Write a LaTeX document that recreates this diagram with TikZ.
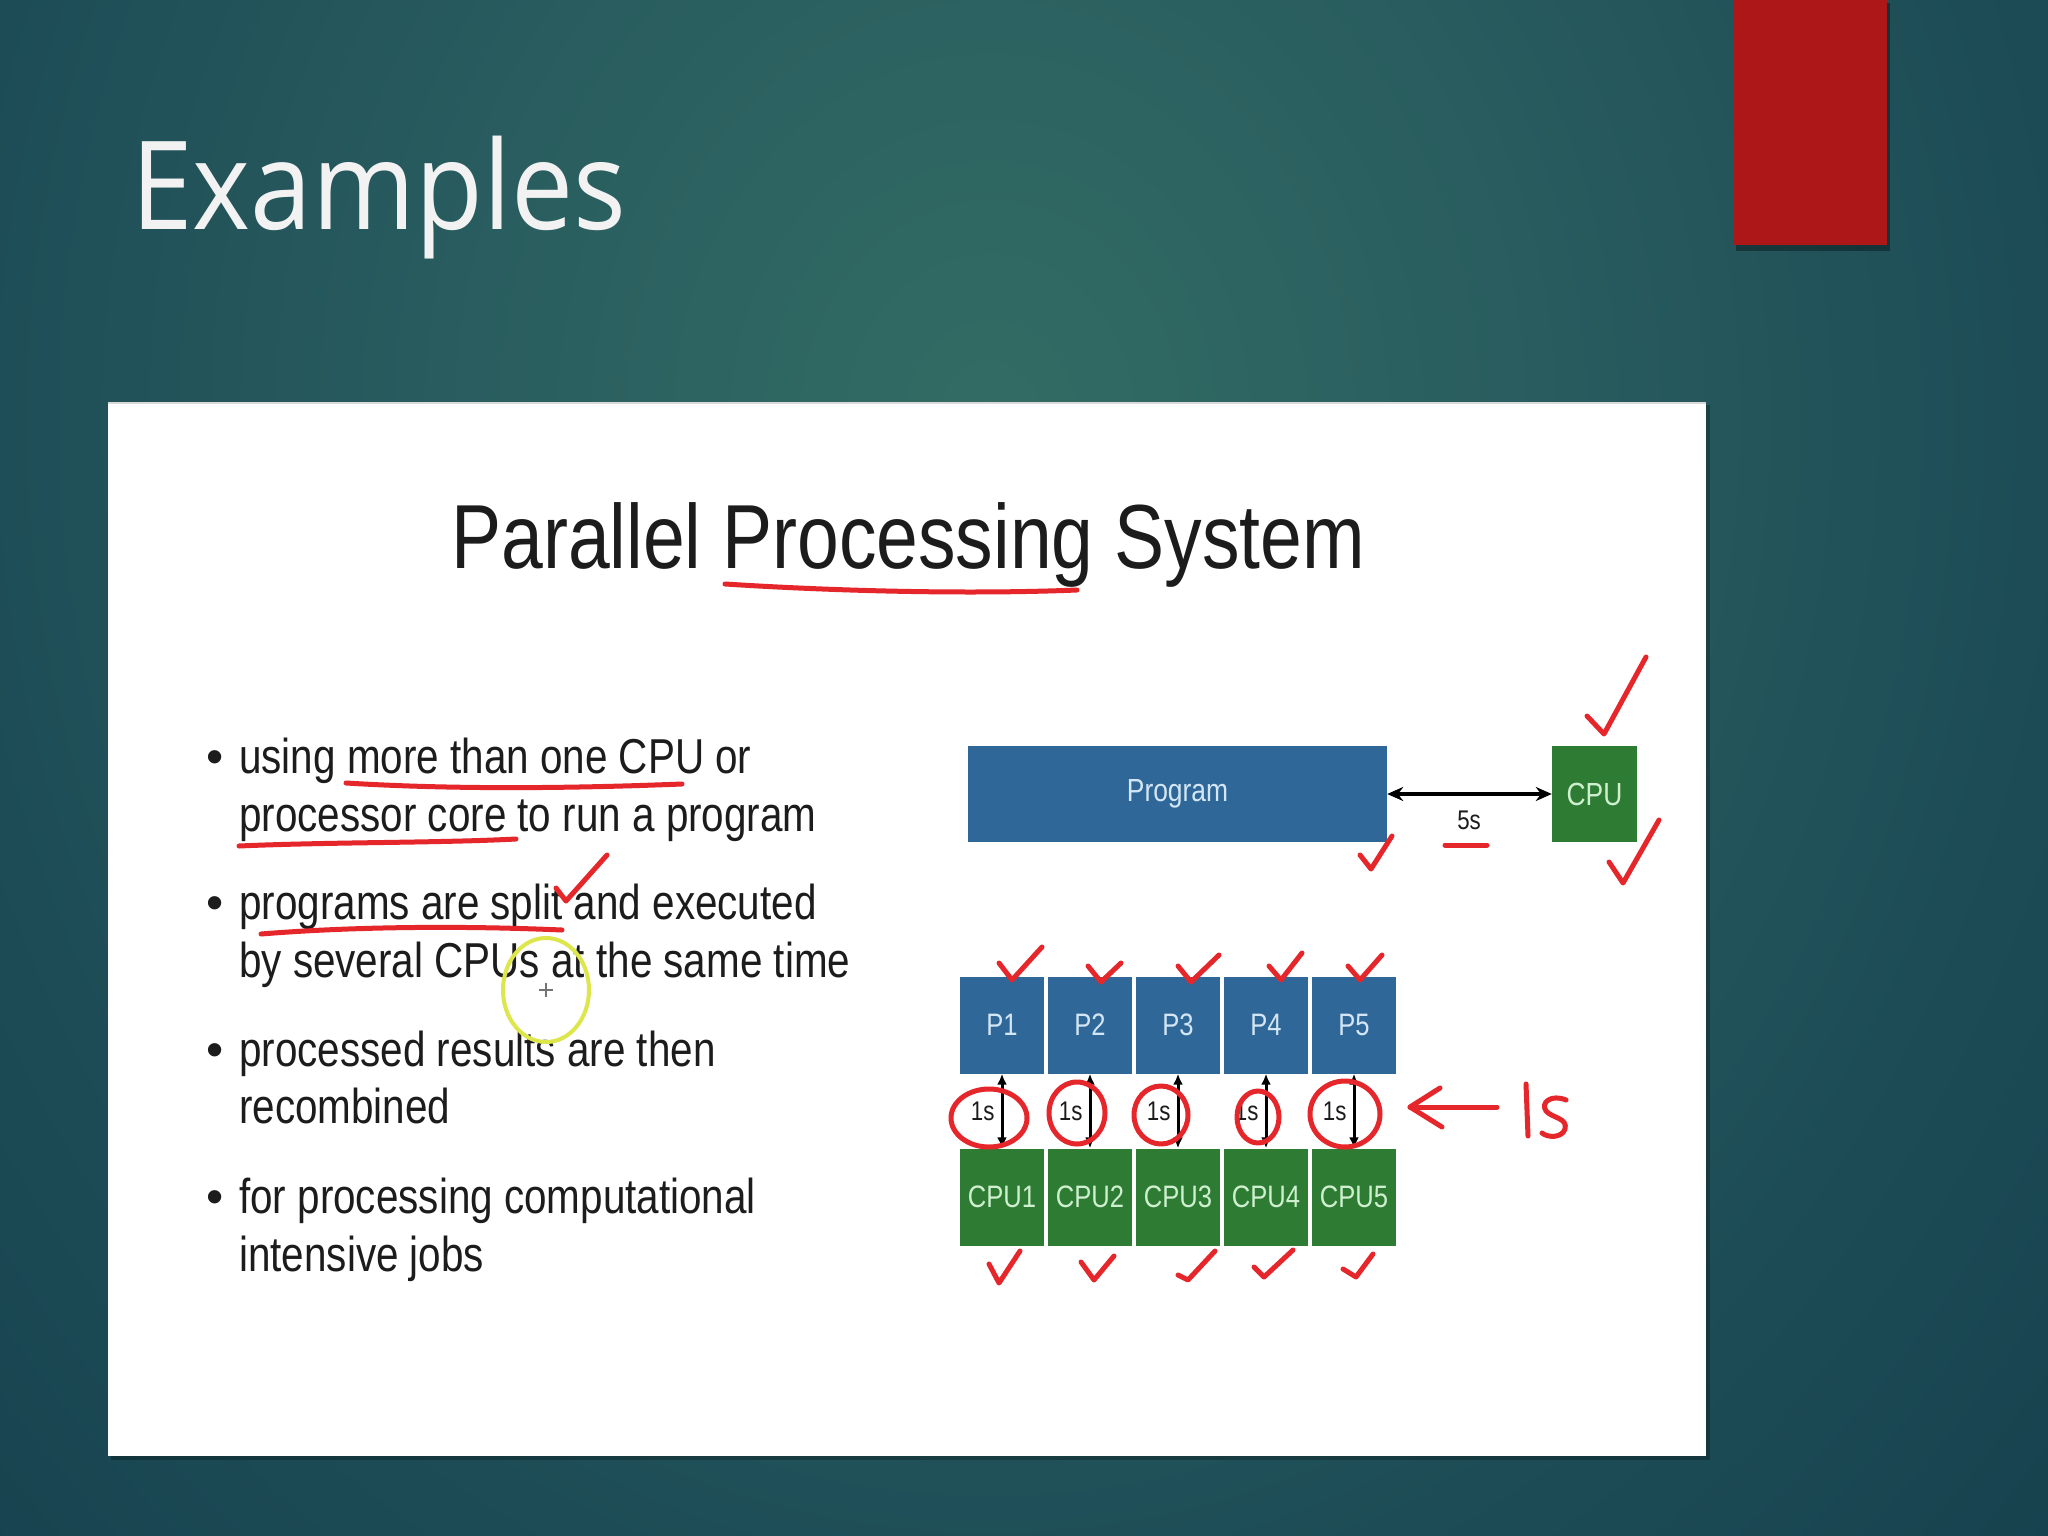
\documentclass[tikz,border=0pt]{standalone}
\usepackage{fontspec}
\usepackage{graphicx}
\setmainfont{Liberation Sans}
\newfontfamily\titlefont{Open Sans}
\usetikzlibrary{arrows.meta}
\definecolor{bgA}{HTML}{326C64}
\definecolor{bgB}{HTML}{295D5F}
\definecolor{bgC}{HTML}{1D4C56}
\definecolor{bgD}{HTML}{143F4C}
\definecolor{bgE}{HTML}{123A48}
\definecolor{barred}{HTML}{AE1717}
\definecolor{pblue}{HTML}{2F6898}
\definecolor{ptext}{HTML}{D4E6F5}
\definecolor{cgreen}{HTML}{2E7B33}
\definecolor{ctext}{HTML}{CFF0CF}
\definecolor{inkred}{HTML}{E5262B}
\definecolor{txt}{HTML}{1C1C1C}
\definecolor{hiyellow}{HTML}{DDE64A}
\pgfdeclareradialshading{glow}{\pgfpoint{0bp}{0bp}}{color(0bp)=(bgA); color(10bp)=(bgB); color(20bp)=(bgC); color(30bp)=(bgD); color(50bp)=(bgE)}
\newcommand\nx[1]{\scalebox{0.825}[1]{#1}}
\begin{document}
\begin{tikzpicture}[x=1pt,y=-1pt,
  hand/.style={draw=inkred, line width=5pt, line cap=round, line join=round},
  pbox/.style={fill=pblue, text=ptext, minimum width=84pt, minimum height=97pt, inner sep=0pt, font=\fontsize{31}{31}\selectfont},
  cbox/.style={fill=cgreen, text=ctext, minimum width=84pt, minimum height=97pt, inner sep=0pt, font=\fontsize{31}{31}\selectfont},
  bline/.style={anchor=base west, inner sep=0pt, text=txt, font=\fontsize{49}{49}\selectfont},
  dbl/.style={{Latex[length=11pt,width=10pt]}-{Latex[length=11pt,width=10pt]}, line width=3pt, black},
  small/.style={font=\fontsize{27}{27}\selectfont, text=txt, inner sep=2pt}
]
\useasboundingbox (0,0) rectangle (2048,1536);
% background
\begin{scope}
\clip (0,0) rectangle (2048,1536);
\fill[bgE] (0,0) rectangle (2048,1536);
\shade[shading=glow] (-310,-1080) rectangle (2290,1920);
\end{scope}
% red bar
\fill[black, opacity=0.35] (1736,3) rectangle (1890,251);
\fill[barred] (1734,0) rectangle (1887,245);
% title
\node[anchor=base west, inner sep=0pt, text=white!95!black, font=\titlefont\fontsize{123}{123}\selectfont] (ttl) at (131,229) {\scalebox{0.9}[1]{Examples}};
% panel
\fill[black, opacity=0.25] (111,405) rectangle (1710,1460);
\fill[white] (108,402) rectangle (1706,1456);
\draw[black!15, line width=2pt] (108,403) -- (1706,403);
\node[anchor=base west, inner sep=0pt, text=txt, font=\fontsize{91}{91}\selectfont] (ptitle) at (451,568) {\nx{Parallel Processing System}};
% bullets
\node[bline] (d1) at (206,773) {•};
\node[bline] (b1a) at (239,773) {\nx{using more than one CPU or}};
\node[bline] (b1b) at (239,831) {\nx{processor core to run a program}};
\node[bline] (d2) at (206,919) {•};
\node[bline] (b2a) at (239,919) {\nx{programs are split and executed}};
\node[bline] (b2b) at (239,977) {\nx{by several CPUs at the same time}};
\node[bline] (d3) at (206,1066) {•};
\node[bline] (b3a) at (239,1066) {\nx{processed results are then}};
\node[bline] (b3b) at (239,1123) {\nx{recombined}};
\node[bline] (d4) at (206,1213) {•};
\node[bline] (b4a) at (239,1213) {\nx{for processing computational}};
\node[bline] (b4b) at (239,1271) {\nx{intensive jobs}};
% top diagram
\node[fill=pblue, text=ptext, minimum width=419pt, minimum height=96pt, inner sep=0pt, font=\fontsize{32}{32}\selectfont] (prog) at (1177.5,794) {\nx{Program}};
\node[cbox, minimum width=85pt, minimum height=96pt, font=\fontsize{32}{32}\selectfont] (cpu) at (1594.5,794) {\nx{CPU}};
\draw[line width=3.5pt, {Stealth[length=16pt,width=14pt]}-{Stealth[length=16pt,width=14pt]}] (prog.east) -- (cpu.west);
\node[small] (five) at (1469,820) {\nx{5s}};
% parallel diagram
\foreach \i/\xx in {1/1002,2/1090,3/1178,4/1266,5/1354}{
  \node[pbox] (p\i) at (\xx,1025) {\nx{P\i}};
  \node[cbox] (c\i) at (\xx,1197) {\nx{CPU\i}};
  \draw[dbl] (p\i.south) -- (c\i.north) node[midway, left, small, xshift=-4pt] (l\i) {\nx{1s}};
}
% yellow cursor highlight
\draw[hiyellow, line width=4pt] (546,990) ellipse [x radius=43, y radius=52];
\draw[black!55, line width=1.5pt] (539,990) -- (553,990) (546,983) -- (546,997);
% red hand annotations: underlines
\draw[hand] (725,584) .. controls (850,592) and (980,594) .. (1077,590);
\draw[hand] (346,783) .. controls (460,790) and (580,788) .. (682,784);
\draw[hand] (239,846) .. controls (330,842) and (440,843) .. (516,839);
\draw[hand] (261,934) .. controls (360,926) and (470,926) .. (562,930);
\draw[hand] (1445,845) -- (1487,845);
% checks
\draw[hand] (1587,716) -- (1604,734) -- (1646,657);
\draw[hand] (1609,862) -- (1623,883) -- (1659,820);
\draw[hand] (1360,855) -- (1371,869) -- (1392,836);
\draw[hand] (556,888) -- (566,901) -- (607,855);
\draw[hand] (999,963) -- (1012,980) -- (1042,947);
\draw[hand] (1088,966) -- (1101,982) -- (1121,963);
\draw[hand] (1178,966) -- (1191,982) -- (1219,955);
\draw[hand] (1269,966) -- (1281,980) -- (1302,953);
\draw[hand] (1348,966) -- (1360,980) -- (1382,955);
\draw[hand] (989,1264) -- (999,1283) -- (1020,1251);
\draw[hand] (1081,1262) -- (1094,1280) -- (1114,1256);
\draw[hand] (1178,1275) -- (1188,1280) -- (1215,1251);
\draw[hand] (1254,1267) -- (1264,1277) -- (1293,1250);
\draw[hand] (1343,1269) -- (1356,1277) -- (1373,1254);
% circles around 1s
\draw[hand] (989,1118) ellipse [x radius=38, y radius=29];
\draw[hand] (1077,1113) ellipse [x radius=28, y radius=31];
\draw[hand] (1161,1115) ellipse [x radius=27, y radius=29];
\draw[hand] (1258,1117) ellipse [x radius=21, y radius=26];
\draw[hand] (1345,1114) ellipse [x radius=35, y radius=33];
% arrow and "ls"
\draw[hand] (1497,1107) -- (1410,1107);
\draw[hand] (1440,1088) -- (1410,1107) -- (1442,1127);
\draw[hand] (1526,1084) -- (1528,1136);
\draw[hand] (1566,1100) .. controls (1552,1094) and (1540,1102) .. (1546,1111) .. controls (1552,1118) and (1568,1118) .. (1565,1129) .. controls (1562,1138) and (1548,1138) .. (1542,1133);
\end{tikzpicture}
\end{document}
